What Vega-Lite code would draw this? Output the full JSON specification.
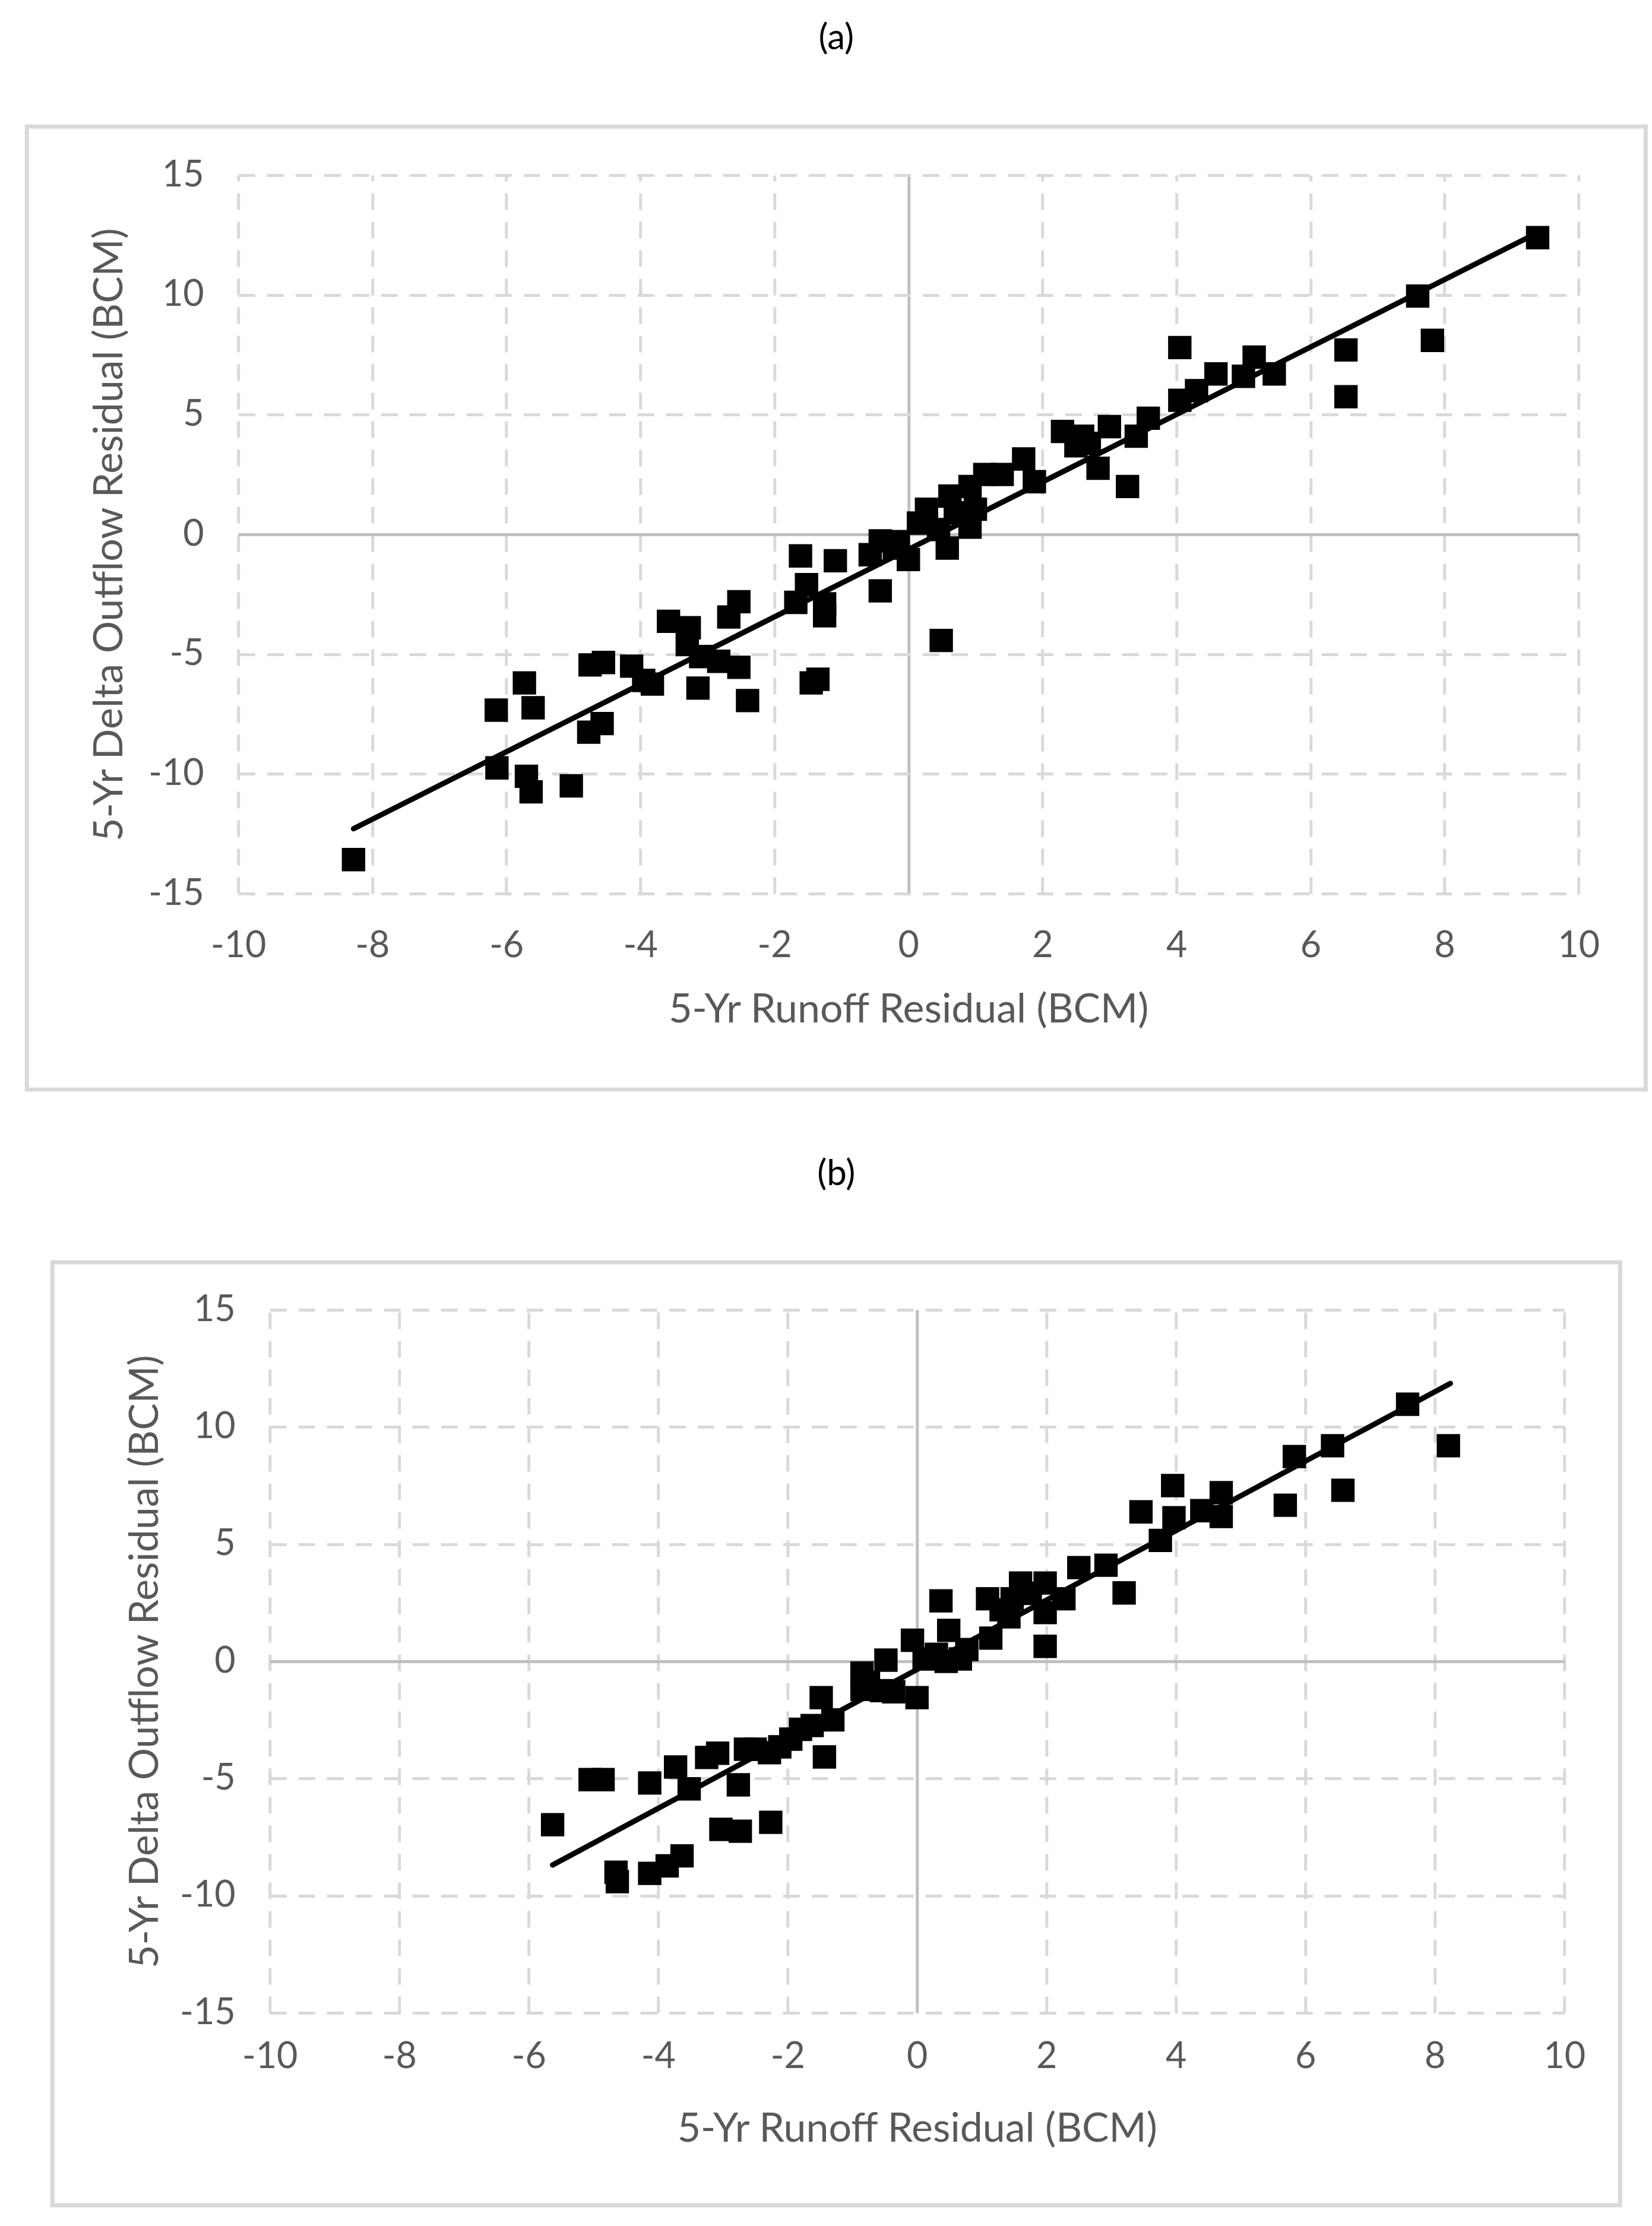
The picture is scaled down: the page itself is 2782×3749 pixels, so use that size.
{
  "$schema": "https://vega.github.io/schema/vega-lite/v6.json",
  "background": "white",
  "padding": {"left": 41, "top": 31, "right": 0, "bottom": 0},
  "spacing": 105,
  "center": true,
  "config": {
    "font": "Lato",
    "view": {"stroke": "#d9d9d9", "strokeWidth": 7},
    "axis": {
      "labelFont": "Lato", "labelFontSize": 61, "labelColor": "#595959",
      "titleFont": "Lato", "titleFontSize": 68, "titleColor": "#595959", "titleFontWeight": "normal",
      "domain": false, "ticks": false, "tickSize": 0, "labelPadding": 58, "labelFlush": false,
      "gridWidth": 5, "labelExpr": "'' + datum.value"
    },
    "title": {"font": "Lato", "fontSize": 60, "fontWeight": "normal", "color": "#000000", "offset": 117, "anchor": "middle"}
  },
  "datasets": {
    "a_points": [
      {"x": -8.28, "y": -13.58}, {"x": -6.15, "y": -7.34}, {"x": -6.14, "y": -9.75}, {"x": -5.73, "y": -6.2},
      {"x": -5.6, "y": -7.24}, {"x": -5.7, "y": -10.1}, {"x": -5.63, "y": -10.75}, {"x": -5.03, "y": -10.5},
      {"x": -4.77, "y": -8.26}, {"x": -4.57, "y": -7.9}, {"x": -4.75, "y": -5.45}, {"x": -4.55, "y": -5.35},
      {"x": -4.13, "y": -5.5}, {"x": -3.95, "y": -6.1}, {"x": -3.82, "y": -6.25}, {"x": -3.58, "y": -3.63},
      {"x": -3.27, "y": -3.9}, {"x": -3.3, "y": -4.6}, {"x": -3.1, "y": -5.1}, {"x": -3.14, "y": -6.42},
      {"x": -2.83, "y": -5.3}, {"x": -2.53, "y": -5.55}, {"x": -2.68, "y": -3.45}, {"x": -2.53, "y": -2.81},
      {"x": -2.4, "y": -6.94}, {"x": -1.68, "y": -2.84}, {"x": -1.61, "y": -0.9}, {"x": -1.52, "y": -2.1},
      {"x": -1.45, "y": -6.2}, {"x": -1.35, "y": -6.05}, {"x": -1.25, "y": -2.9}, {"x": -1.25, "y": -3.4},
      {"x": -1.09, "y": -1.1}, {"x": -0.57, "y": -0.85}, {"x": -0.42, "y": -0.27}, {"x": -0.42, "y": -2.36},
      {"x": -0.21, "y": -0.57}, {"x": 0.0, "y": -1.05}, {"x": -0.15, "y": -0.3}, {"x": 0.15, "y": 0.47},
      {"x": 0.27, "y": 1.05}, {"x": 0.45, "y": 0.2}, {"x": 0.49, "y": -4.43}, {"x": 0.58, "y": -0.57},
      {"x": 0.62, "y": 1.6}, {"x": 0.7, "y": 0.9}, {"x": 0.92, "y": 2.0}, {"x": 0.92, "y": 0.3},
      {"x": 1.0, "y": 1.05}, {"x": 1.14, "y": 2.5}, {"x": 1.4, "y": 2.5}, {"x": 1.72, "y": 3.15},
      {"x": 1.88, "y": 2.2}, {"x": 2.3, "y": 4.3}, {"x": 2.5, "y": 3.7}, {"x": 2.6, "y": 4.1},
      {"x": 2.7, "y": 3.8}, {"x": 2.83, "y": 2.76}, {"x": 3.0, "y": 4.5}, {"x": 3.27, "y": 2.0},
      {"x": 3.4, "y": 4.1}, {"x": 3.58, "y": 4.85}, {"x": 4.05, "y": 7.8}, {"x": 4.05, "y": 5.6},
      {"x": 4.3, "y": 6.0}, {"x": 4.59, "y": 6.7}, {"x": 5.0, "y": 6.6}, {"x": 5.16, "y": 7.4},
      {"x": 5.46, "y": 6.7}, {"x": 6.53, "y": 7.7}, {"x": 6.53, "y": 5.75}, {"x": 7.6, "y": 9.95},
      {"x": 7.82, "y": 8.1}, {"x": 9.39, "y": 12.39}
    ],
    "a_fit": [{"x": -8.28, "y": -12.29}, {"x": 9.35, "y": 12.54}],
    "b_points": [
      {"x": -5.63, "y": -6.97}, {"x": -5.05, "y": -5.05}, {"x": -4.85, "y": -5.05}, {"x": -4.65, "y": -9.0},
      {"x": -4.63, "y": -9.4}, {"x": -4.13, "y": -5.19}, {"x": -4.13, "y": -9.05}, {"x": -3.86, "y": -8.73},
      {"x": -3.63, "y": -8.3}, {"x": -3.73, "y": -4.51}, {"x": -3.52, "y": -5.44}, {"x": -3.25, "y": -4.1},
      {"x": -3.08, "y": -3.92}, {"x": -3.03, "y": -7.17}, {"x": -2.73, "y": -7.25}, {"x": -2.76, "y": -5.27},
      {"x": -2.65, "y": -3.75}, {"x": -2.5, "y": -3.75}, {"x": -2.28, "y": -3.9}, {"x": -2.26, "y": -6.87},
      {"x": -2.12, "y": -3.65}, {"x": -1.95, "y": -3.32}, {"x": -1.8, "y": -2.9}, {"x": -1.62, "y": -2.74},
      {"x": -1.48, "y": -1.55}, {"x": -1.43, "y": -4.08}, {"x": -1.3, "y": -2.5}, {"x": -0.85, "y": -0.5},
      {"x": -0.85, "y": -1.2}, {"x": -0.75, "y": -0.9}, {"x": -0.48, "y": 0.05}, {"x": -0.36, "y": -1.3},
      {"x": -0.55, "y": -1.25}, {"x": 0.0, "y": -1.55}, {"x": -0.07, "y": 0.9}, {"x": 0.11, "y": 0.1},
      {"x": 0.3, "y": 0.3}, {"x": 0.37, "y": 2.58}, {"x": 0.49, "y": 1.32}, {"x": 0.45, "y": 0.0},
      {"x": 0.67, "y": 0.1}, {"x": 0.77, "y": 0.5}, {"x": 1.09, "y": 2.67}, {"x": 1.14, "y": 0.99},
      {"x": 1.42, "y": 1.9}, {"x": 1.47, "y": 2.67}, {"x": 1.3, "y": 2.2}, {"x": 1.6, "y": 3.34},
      {"x": 1.75, "y": 2.9}, {"x": 1.98, "y": 3.34}, {"x": 2.27, "y": 2.67}, {"x": 1.98, "y": 2.08},
      {"x": 1.98, "y": 0.64}, {"x": 2.5, "y": 4.0}, {"x": 2.92, "y": 4.1}, {"x": 3.2, "y": 2.92},
      {"x": 3.46, "y": 6.38}, {"x": 3.76, "y": 5.16}, {"x": 3.95, "y": 7.5}, {"x": 3.97, "y": 6.13},
      {"x": 4.4, "y": 6.43}, {"x": 4.7, "y": 7.2}, {"x": 4.7, "y": 6.18}, {"x": 5.69, "y": 6.66},
      {"x": 5.83, "y": 8.74}, {"x": 6.42, "y": 9.2}, {"x": 6.58, "y": 7.3}, {"x": 7.58, "y": 10.97},
      {"x": 8.21, "y": 9.2}
    ],
    "b_fit": [{"x": -5.63, "y": -8.69}, {"x": 8.24, "y": 11.86}]
  },
  "vconcat": [
    {
      "width": 2726,
      "height": 1622,
      "title": {"text": "(a)"},
      "resolve": {"axis": {"x": "independent", "y": "independent"}},
      "layer": [
        {
          "data": {"name": "a_points"},
          "mark": {"type": "square", "size": 1550, "color": "#000000", "opacity": 1},
          "encoding": {
            "x": {
              "field": "x", "type": "quantitative",
              "scale": {"domain": [-10, 10], "range": [356, 2613], "nice": false, "zero": false},
              "axis": {
                "orient": "top", "offset": -82, "labels": false, "title": null, "grid": true,
                "values": [-10, -8, -6, -4, -2, 0, 2, 4, 6, 8, 10],
                "gridColor": {"condition": {"test": "datum.value === 0", "value": "#bfbfbf"}, "value": "#d9d9d9"},
                "gridDash": {"condition": {"test": "datum.value === 0", "value": []}, "value": [28, 20]}
              }
            },
            "y": {
              "field": "y", "type": "quantitative",
              "scale": {"domain": [-15, 15], "range": [1292, 82], "nice": false, "zero": false},
              "axis": {
                "orient": "left", "offset": -356, "grid": true, "titlePadding": 30,
                "title": "5-Yr Delta Outflow Residual (BCM)",
                "values": [-15, -10, -5, 0, 5, 10, 15],
                "gridColor": {"condition": {"test": "datum.value === 0", "value": "#bfbfbf"}, "value": "#d9d9d9"},
                "gridDash": {"condition": {"test": "datum.value === 0", "value": []}, "value": [28, 20]}
              }
            }
          }
        },
        {
          "data": {"name": "a_fit"},
          "mark": {"type": "line", "color": "#000000", "strokeWidth": 9, "strokeCap": "round"},
          "encoding": {
            "x": {
              "field": "x", "type": "quantitative",
              "axis": {
                "orient": "bottom", "offset": -330, "grid": false, "titlePadding": 44,
                "title": "5-Yr Runoff Residual (BCM)",
                "values": [-10, -8, -6, -4, -2, 0, 2, 4, 6, 8, 10]
              }
            },
            "y": {"field": "y", "type": "quantitative", "axis": null}
          }
        }
      ]
    },
    {
      "width": 2640,
      "height": 1588,
      "title": {"text": "(b)"},
      "resolve": {"axis": {"x": "independent", "y": "independent"}},
      "layer": [
        {
          "data": {"name": "b_points"},
          "mark": {"type": "square", "size": 1550, "color": "#000000", "opacity": 1},
          "encoding": {
            "x": {
              "field": "x", "type": "quantitative",
              "scale": {"domain": [-10, 10], "range": [366, 2546], "nice": false, "zero": false},
              "axis": {
                "orient": "top", "offset": -80, "labels": false, "title": null, "grid": true,
                "values": [-10, -8, -6, -4, -2, 0, 2, 4, 6, 8, 10],
                "gridColor": {"condition": {"test": "datum.value === 0", "value": "#bfbfbf"}, "value": "#d9d9d9"},
                "gridDash": {"condition": {"test": "datum.value === 0", "value": []}, "value": [28, 20]}
              }
            },
            "y": {
              "field": "y", "type": "quantitative",
              "scale": {"domain": [-15, 15], "range": [1264, 80], "nice": false, "zero": false},
              "axis": {
                "orient": "left", "offset": -366, "grid": true, "titlePadding": 23,
                "title": "5-Yr Delta Outflow Residual (BCM)",
                "values": [-15, -10, -5, 0, 5, 10, 15],
                "gridColor": {"condition": {"test": "datum.value === 0", "value": "#bfbfbf"}, "value": "#d9d9d9"},
                "gridDash": {"condition": {"test": "datum.value === 0", "value": []}, "value": [28, 20]}
              }
            }
          }
        },
        {
          "data": {"name": "b_fit"},
          "mark": {"type": "line", "color": "#000000", "strokeWidth": 9, "strokeCap": "round"},
          "encoding": {
            "x": {
              "field": "x", "type": "quantitative",
              "axis": {
                "orient": "bottom", "offset": -324, "grid": false, "labelPadding": 44, "titlePadding": 58,
                "title": "5-Yr Runoff Residual (BCM)",
                "values": [-10, -8, -6, -4, -2, 0, 2, 4, 6, 8, 10]
              }
            },
            "y": {"field": "y", "type": "quantitative", "axis": null}
          }
        }
      ]
    }
  ]
}
